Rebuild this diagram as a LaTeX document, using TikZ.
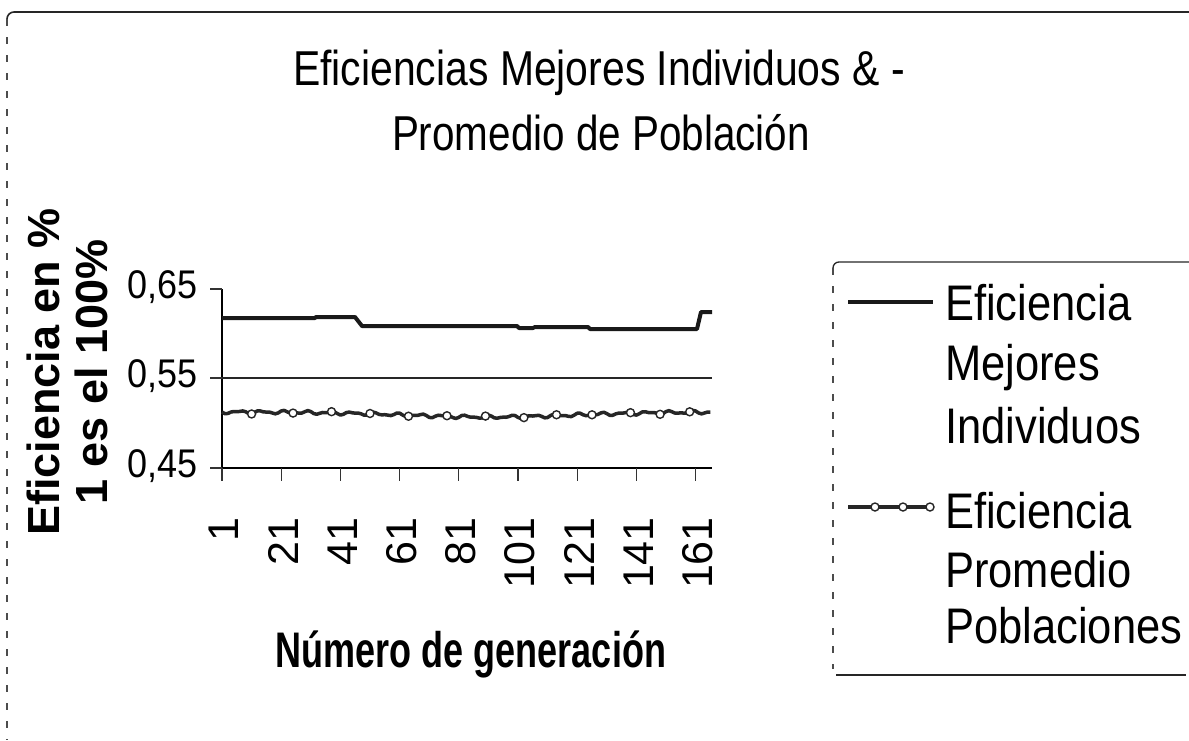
\documentclass[tikz,border=0pt]{standalone}
\usepackage{fontspec}
\setmainfont{Liberation Sans}
\begin{document}
\begin{tikzpicture}[x=1pt,y=-1pt,
  declare function={gx(\i)=222+2.96*\i; avgy(\i)=412+5*exp(-((2.96*\i-268)/120)^2)+1.2*sin(47*\i)+0.8*sin(83*\i);},
  frameline/.style={line width=1.6pt,black!85},
  fadeline/.style={line width=1.4pt,black!70,dash pattern=on 7pt off 11pt},
  axisline/.style={line width=1.6pt,black},
  tickline/.style={line width=1.2pt,black!80},
  bestline/.style={line width=4pt,black!90},
  avgline/.style={line width=3.5pt,black!85},
  avgmark/.style={circle,draw=black!85,fill=white,line width=1.4pt,inner sep=0pt,minimum size=8pt},
  ttl/.style={inner sep=0pt,anchor=base,font=\fontsize{49}{58}\selectfont},
  ytick/.style={inner sep=0pt,anchor=base east,font=\fontsize{40}{48}\selectfont},
  xtick/.style={inner sep=0pt,anchor=east,rotate=90,font=\fontsize{43}{50}\selectfont},
  ylab/.style={inner sep=0pt,anchor=center,rotate=90,font=\bfseries\fontsize{45}{54}\selectfont},
  xlab/.style={inner sep=0pt,anchor=base,font=\bfseries\fontsize{50}{60}\selectfont},
  legtxt/.style={inner sep=0pt,anchor=base west,font=\fontsize{50}{60}\selectfont}]
\useasboundingbox (0,0) rectangle (1189,740);

% outer chart frame
\draw[frameline] (1189,12) -- (14,12) to[out=180,in=90] (7,19);
\draw[fadeline] (7,19) -- (7,740);

% title
\node[ttl] (t1) at (599,85) {\scalebox{0.835}[1]{Eficiencias Mejores Individuos \& -}};
\node[ttl] (t2) at (601,150) {\scalebox{0.825}[1]{Promedio de Población}};

% y axis title
\node[ylab] (yl1) at (43,372) {Eficiencia en \%};
\node[ylab] (yl2) at (91,372) {1 es el 100\%};

% y tick labels
\node[ytick] (v65) at (198,298) {\scalebox{0.9}[1]{0,65}};
\node[ytick] (v55) at (198,387) {\scalebox{0.9}[1]{0,55}};
\node[ytick] (v45) at (198,477) {\scalebox{0.9}[1]{0,45}};

% axes, ticks, gridline
\draw[axisline] (222,289) -- (222,468);
\draw[axisline] (222,468) -- (712,468);
\draw[line width=1.8pt,black!85] (222,378) -- (712,378);
\foreach \yy in {289,378,468} \draw[tickline] (210,\yy) -- (222,\yy);
\foreach \k in {0,...,8} \draw[tickline] ({222+20*\k*2.96},468) -- ({222+20*\k*2.96},481);

% x tick labels
\foreach \g in {1,21,41,61,81,101,121,141,161}
  \node[xtick] (g\g) at ({224+(\g-1)*2.96},517) {\g};

% x axis title
\node[xlab] (xl) at (471,667) {\scalebox{0.72}[1]{Número de generación}};

% series: best individuals
\draw[bestline,line join=round] (222,318) -- (315,318) -- (316,317) -- (355,317) -- (362,326) -- (517,326)
  -- (519,328) -- (533,328) -- (535,327) -- (588,327) -- (590,329) -- (697,329) -- (701,312) -- (712,312);

% series: population average
\draw[avgline,line join=round] plot[domain=0:165,samples=166,variable=\i] ({gx(\i)},{avgy(\i)});
\foreach \m in {10,24,37,50,63,76,89,102,113,125,138,148,158}
  \node[avgmark] at ({gx(\m)},{avgy(\m)}) {};

% legend box
\draw[line width=1.3pt,black!85] (1189,262) -- (839,262) to[out=180,in=90] (833,268);
\draw[fadeline] (833,268) -- (833,669);
\draw[line width=1.3pt,black!85] (836,675) -- (1186,675);

% legend entries
\draw[bestline] (848,302) -- (933,302);
\draw[avgline] (848,507) -- (933,507);
\foreach \m in {875,903,930} \node[avgmark] at (\m,507) {};

\node[legtxt] (l1a) at (945,320) {\scalebox{0.87}[1]{Eficiencia}};
\node[legtxt] (l1b) at (945,380) {\scalebox{0.87}[1]{Mejores}};
\node[legtxt] (l1c) at (945,443) {\scalebox{0.87}[1]{Individuos}};
\node[legtxt] (l2a) at (945,528) {\scalebox{0.87}[1]{Eficiencia}};
\node[legtxt] (l2b) at (945,587) {\scalebox{0.87}[1]{Promedio}};
\node[legtxt] (l2c) at (945,643) {\scalebox{0.87}[1]{Poblaciones}};
\end{tikzpicture}
\end{document}
